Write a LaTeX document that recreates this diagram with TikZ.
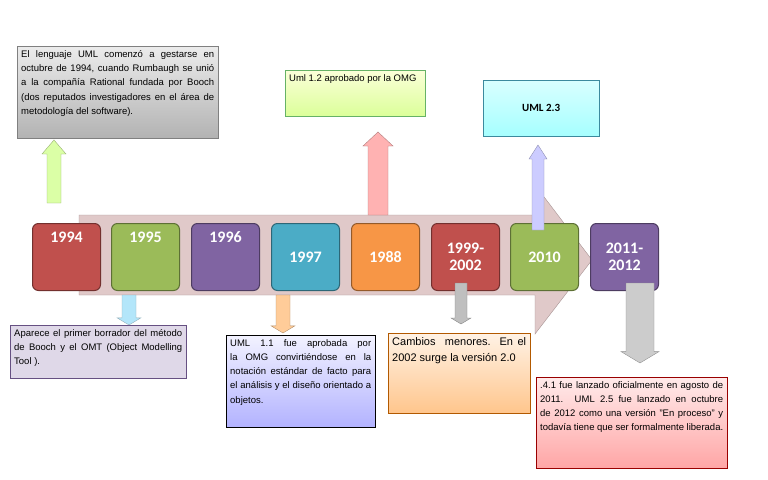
\documentclass[tikz,border=0pt]{standalone}
\usepackage{fontspec}
\setmainfont{Liberation Sans}
\newfontfamily\yearfont{Carlito}
\newcommand\tb[3]{\parbox[t][#2][t]{#1}{\hyphenpenalty10000\exhyphenpenalty10000#3}}
\begin{document}
\begin{tikzpicture}[x=1pt,y=-1pt,
  year/.style={draw=#1!60!black,fill=#1,rounded corners=6pt,minimum width=68pt,minimum height=67pt,anchor=north west,font=\yearfont\bfseries\fontsize{16}{17}\selectfont,text=white,align=center,line width=1pt},
  tbox/.style={anchor=north west,font=\fontsize{9.5}{14.3}\selectfont,inner sep=4pt}]
\useasboundingbox (0,0) rectangle (768,479);
\definecolor{cR}{HTML}{C0504D}\definecolor{cG}{HTML}{9BBB59}\definecolor{cP}{HTML}{8064A2}
\definecolor{cB}{HTML}{4BACC6}\definecolor{cO}{HTML}{F79646}
% big arrow
\draw[fill=pink!60!gray!60!white,draw=gray!70!pink] (79,215) -- (535,215) -- (535,185) -- (592,260) -- (535,334) -- (535,295) -- (79,295) -- cycle;
% notes
\node[tbox,draw=gray,top color=gray!15,bottom color=gray!60] (n1) at (17,46) {\tb{193pt}{84pt}{El lenguaje UML comenzó a gestarse en octubre de 1994, cuando Rumbaugh se unió a la compañía Rational fundada por Booch (dos reputados investigadores en el área de metodología del software).}};
\node[tbox,draw=green!50!black!60,top color=green!10!yellow!15,bottom color=green!35!yellow!40] (n2) at (285,70) {\tb{132pt}{38pt}{Uml 1.2 aprobado por la OMG}};
\node[draw=cB!80!black,top color=cyan!15,bottom color=cyan!35,minimum width=116pt,minimum height=56pt,anchor=north west,font=\yearfont\bfseries\fontsize{11}{12}\selectfont] (n3) at (483,80) {UML 2.3};
\node[tbox,draw=cP!80!black,fill=cP!25] (n4) at (10,325) {\tb{168pt}{45pt}{Aparece el primer borrador del método de Booch y el OMT (Object Modelling Tool ).}};
\node[tbox,draw=black,top color=blue!5,bottom color=blue!30] (n5) at (226,335) {\tb{141pt}{84pt}{UML 1.1 fue aprobada por la OMG convirtiéndose en la notación estándar de facto para el análisis y el diseño orientado a objetos.}};
\node[tbox,draw=orange!70!black,top color=orange!10,bottom color=orange!45,font=\fontsize{11}{16}\selectfont] (n6) at (388,333) {\tb{134pt}{72pt}{Cambios\ \ menores. En el 2002 surge la versión 2.0}};
\node[tbox,draw=red!60!black,top color=red!8,bottom color=red!35] (n7) at (536,377) {\tb{183pt}{83pt}{2.4.1 fue lanzado oficialmente en agosto de 2011. UML 2.5 fue lanzado en octubre de 2012 como una versión "En proceso" y todavía tiene que ser formalmente liberada.}};
% years
\node[year=cR] (y1) at (32,223) {1994\\[22pt]};
\node[year=cG] (y2) at (111,223) {1995\\[22pt]};
\node[year=cP] (y3) at (191,223) {1996\\[22pt]};
\node[year=cB] (y4) at (271,223) {1997};
\node[year=cO] (y5) at (351,223) {1988};
\node[year=cR] (y6) at (431,223) {1999-\\2002};
\node[year=cG] (y7) at (510,223) {2010};
\node[year=cP] (y8) at (590,223) {2011-\\2012};
% block arrows
\newcommand\uparr[6]{% cx, ytip, ybase, half body, half head, color
 \colorlet{tmpc}{#6}%
 \draw[draw=tmpc!70!black,fill=tmpc] (#1-#4,#3) -- (#1-#4,#2+14) -- (#1-#5,#2+14) -- (#1,#2) -- (#1+#5,#2+14) -- (#1+#4,#2+14) -- (#1+#4,#3) -- cycle;}
\newcommand\dnarr[6]{%
 \colorlet{tmpc}{#6}%
 \draw[draw=tmpc!70!black,fill=tmpc] (#1-#4,#2) -- (#1-#4,#3-#5*0.6) -- (#1-#5,#3-#5*0.6) -- (#1,#3) -- (#1+#5,#3-#5*0.6) -- (#1+#4,#3-#5*0.6) -- (#1+#4,#2) -- cycle;}
\uparr{54}{140}{203}{7}{12}{green!40!yellow!35}
\uparr{378}{132}{215}{10}{15}{red!30}
\uparr{538}{145}{230}{6}{9}{blue!20}
\dnarr{129}{295}{325}{7}{12}{cyan!30}
\dnarr{283}{295}{333}{7}{12}{orange!40}
\dnarr{461}{283}{324}{6}{10}{gray!50}
\dnarr{640}{283}{363}{14}{19}{gray!40}
\end{tikzpicture}
\end{document}
